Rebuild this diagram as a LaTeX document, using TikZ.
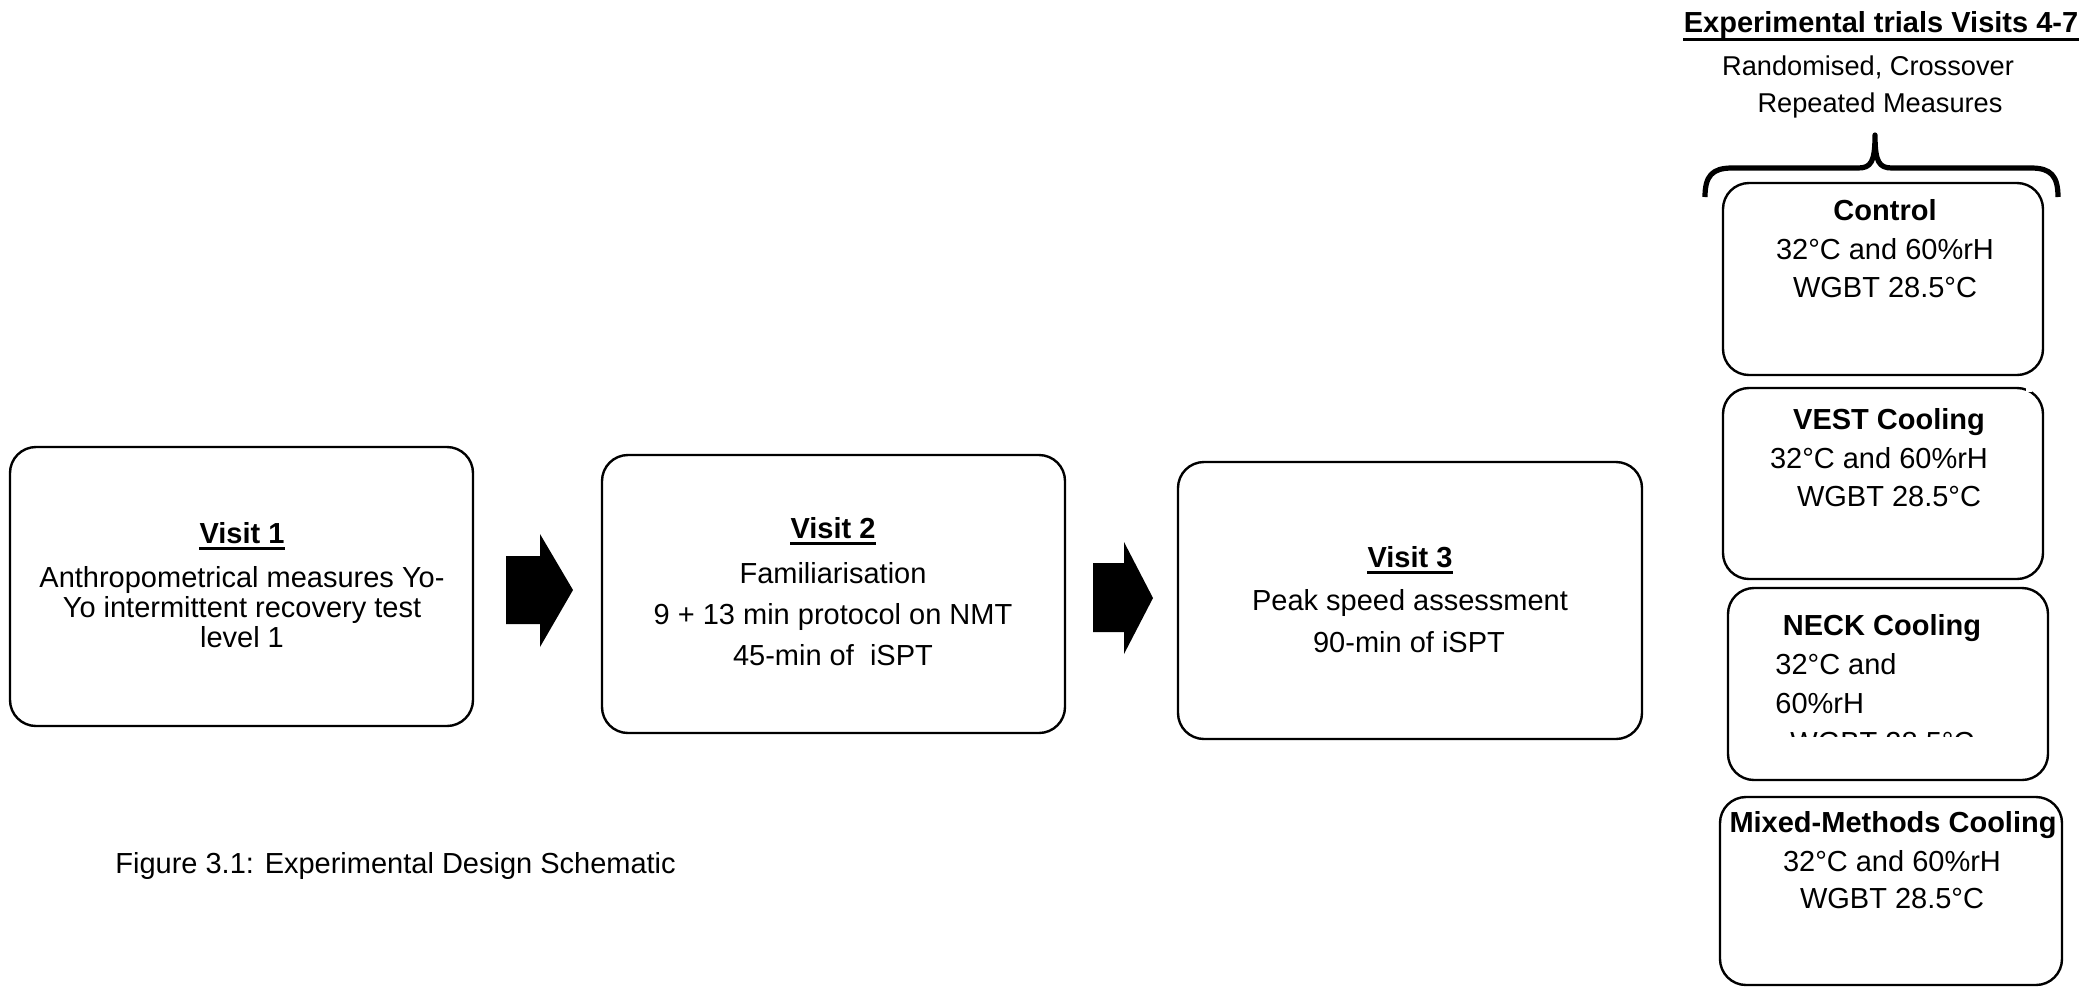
\documentclass[tikz,border=0pt]{standalone}
\usepackage{fontspec}
\setmainfont{Liberation Sans}
\begin{document}
\begin{tikzpicture}[x=0.5pt,y=-0.5pt,
  box/.style={draw=black, line width=1.2pt, rounded corners=13pt, inner sep=0pt},
  txt/.style={inner sep=0pt, font=\fontsize{14.5}{17}\selectfont},
  smalltxt/.style={inner sep=0pt, font=\fontsize{13.6}{16}\selectfont},
  ttl/.style={inner sep=0pt, font=\fontsize{14.5}{17}\selectfont\bfseries},
  ulline/.style={line width=1.5pt},
  blockarrow/.style={fill=black},
  bracepath/.style={line width=2.6pt, line join=round}]
\useasboundingbox (0,0) rectangle (2084,987);

% ---------- Visit boxes ----------
\node[box, minimum width=231.5pt, minimum height=139.5pt] (v1) at (241.5,586.5) {};
\node[box, minimum width=231.5pt, minimum height=139pt] (v2) at (833.5,594) {};
\node[box, minimum width=232pt, minimum height=138.5pt] (v3) at (1410,600.5) {};

% Visit 1 text
\node[ttl, anchor=base] (v1t) at (242,543) {Visit 1};
\draw[ulline] ([yshift=-2.8pt]v1t.base west) -- ([yshift=-2.8pt]v1t.base east);
\node[txt, anchor=base] (v1a) at (242,587) {Anthropometrical measures Yo-};
\node[txt, anchor=base] (v1b) at (242,617) {Yo intermittent recovery test};
\node[txt, anchor=base] (v1c) at (242,647) {level 1};

% Visit 2 text
\node[ttl, anchor=base] (v2t) at (833,538) {Visit 2};
\draw[ulline] ([yshift=-2.8pt]v2t.base west) -- ([yshift=-2.8pt]v2t.base east);
\node[txt, anchor=base] (v2a) at (833,583) {Familiarisation};
\node[txt, anchor=base] (v2b) at (833,624) {9 + 13 min protocol on NMT};
\node[txt, anchor=base] (v2c) at (833,665) {45-min of~ iSPT};

% Visit 3 text
\node[ttl, anchor=base] (v3t) at (1410,567) {Visit 3};
\draw[ulline] ([yshift=-2.8pt]v3t.base west) -- ([yshift=-2.8pt]v3t.base east);
\node[txt, anchor=base] (v3a) at (1410,610) {Peak speed assessment};
\node[txt, anchor=base] (v3b) at (1409,652) {90-min of iSPT};

% ---------- Block arrows ----------
\fill[blockarrow] (506,556) -- (540,556) -- (540,534) -- (573,590) -- (540,647) -- (540,624) -- (506,624) -- cycle;
\fill[blockarrow] (1093,563) -- (1124,563) -- (1124,542) -- (1153,598) -- (1124,654) -- (1124,632) -- (1093,632) -- cycle;

% ---------- Right column header ----------
\node[ttl, anchor=base] (hdr) at (1881,32) {Experimental trials Visits 4-7};
\draw[ulline] ([yshift=-3.7pt]hdr.base west) -- ([yshift=-3.7pt]hdr.base east);
\node[smalltxt, anchor=base] (hdra) at (1868,75) {Randomised, Crossover};
\node[smalltxt, anchor=base] (hdrb) at (1880,112) {Repeated Measures};

% brace
\draw[bracepath] (1705,197) .. controls (1705,176) and (1712,168) .. (1732,168)
  -- (1858,168) .. controls (1871,168) and (1875,162) .. (1875,135)
  .. controls (1875,162) and (1879,168) .. (1892,168)
  -- (2031,168) .. controls (2051,168) and (2058,176) .. (2058,197);

% ---------- Condition boxes ----------
\node[box, minimum width=160pt, minimum height=96pt] (ctrl) at (1883,279) {};
\node[ttl, anchor=base] (ctrlt) at (1885,220) {Control};
\node[txt, anchor=base] (ctrla) at (1885,259) {32°C and 60\%rH};
\node[txt, anchor=base] (ctrlb) at (1885,297) {WGBT 28.5°C};

\node[box, minimum width=160pt, minimum height=95.5pt] (vest) at (1883,483.5) {};
\fill[white] (2026,384) rectangle (2032,392);
\node[ttl, anchor=base] (vestt) at (1889,429) {VEST Cooling};
\node[txt, anchor=base] (vesta) at (1879,468) {32°C and 60\%rH};
\node[txt, anchor=base] (vestb) at (1889,506) {WGBT 28.5°C};

\node[box, minimum width=160pt, minimum height=96pt] (neck) at (1888,684) {};
\node[ttl, anchor=base] (neckt) at (1882,635) {NECK Cooling};
\node[txt, anchor=base west] (necka) at (1775,674) {32°C and};
\node[txt, anchor=base west] (neckb) at (1775,713) {60\%rH};
\begin{scope}
  \clip (1735,720) rectangle (2040,736);
  \node[txt, anchor=base west] (neckc) at (1790,752) {WGBT 28.5°C};
\end{scope}

\node[box, minimum width=171pt, minimum height=94pt] (mix) at (1891,891) {};
\node[ttl, anchor=base] (mixt) at (1893,832) {Mixed-Methods Cooling};
\node[txt, anchor=base] (mixa) at (1892,871) {32°C and 60\%rH};
\node[txt, anchor=base] (mixb) at (1892,908) {WGBT 28.5°C};

% ---------- Caption ----------
\node[txt, anchor=base west] (cap) at (115,873) {Figure 3.1: Experimental Design Schematic};
\end{tikzpicture}
\end{document}
